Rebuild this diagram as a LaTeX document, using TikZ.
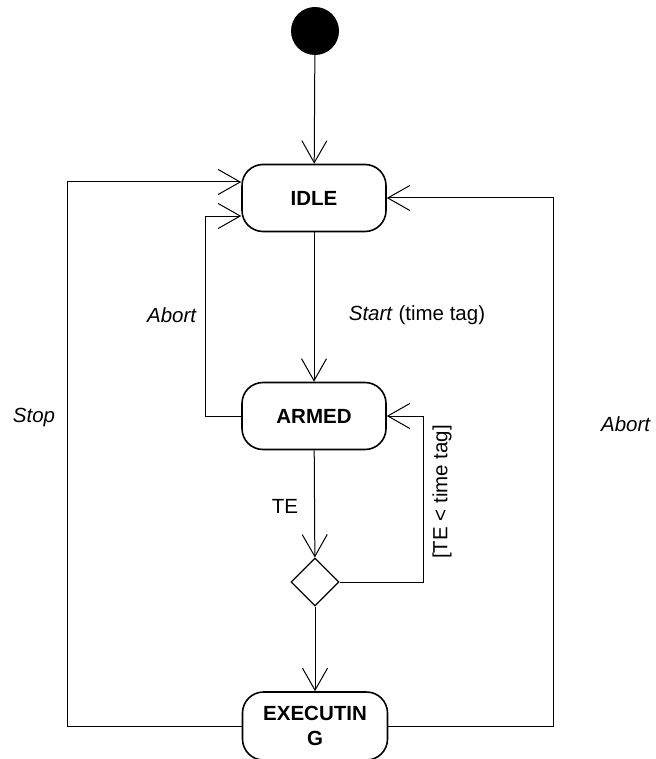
\documentclass[tikz,border=0pt]{standalone}
\usepackage{fontspec}
\setmainfont{Liberation Sans}
\usetikzlibrary{shapes.geometric,arrows.meta}
\tikzset{
  txt/.style={font=\fontsize{20.5}{25}\selectfont, inner sep=0pt},
  statebox/.style={draw, line width=1.6pt, rounded corners=21pt, minimum width=144pt, minimum height=67pt, align=center, font=\fontsize{20.5}{25}\selectfont\bfseries, inner sep=0pt},
  arr/.style={line width=1pt, -{Straight Barb[length=22pt,width=25pt,line width=1pt]}},
  plain/.style={line width=1pt},
}
\begin{document}
\begin{tikzpicture}[x=1pt,y=-1pt]
\useasboundingbox (0,0) rectangle (655,759);
\node[circle, fill=black, minimum size=48pt, inner sep=0pt] (init) at (315,31) {};
\node[statebox] (idle) at (314,198) {IDLE};
\node[statebox] (armed) at (314,416) {ARMED};
\node[draw, diamond, line width=1.3pt, minimum width=48pt, minimum height=48pt, inner sep=0pt] (dec) at (315,582) {};
\node[statebox, minimum width=145pt, minimum height=68pt] (exec) at (315,726) {EXECUTIN\\G};

\draw[arr] (init) -- (idle);
\draw[arr] (idle) -- (armed);
\draw[arr] (armed.west) -- ++(-36,0) |- ([yshift=-18pt]idle.west);
\draw[arr] (armed) -- (dec);
\draw[arr] (dec.east) -- ++(84,0) |- (armed.east);
\draw[arr] (dec) -- (exec);
\draw[arr] (exec.west) -- ++(-174,0) |- ([yshift=16pt]idle.west);
\draw[arr] (exec.east) -- ++(165,0) |- (idle.east);

\node[txt] (lstart) at (417,315) {\textit{Start} (time tag)};
\node[txt] (labort1) at (172,315) {\textit{Abort}};
\node[txt] (lte) at (285,506) {TE};
\node[txt, rotate=90] (lguard) at (442,492) {[TE < time tag]};
\node[txt] (lstop) at (34,417) {\textit{Stop}};
\node[txt] (labort2) at (626,424) {\textit{Abort}};
\end{tikzpicture}
\end{document}
